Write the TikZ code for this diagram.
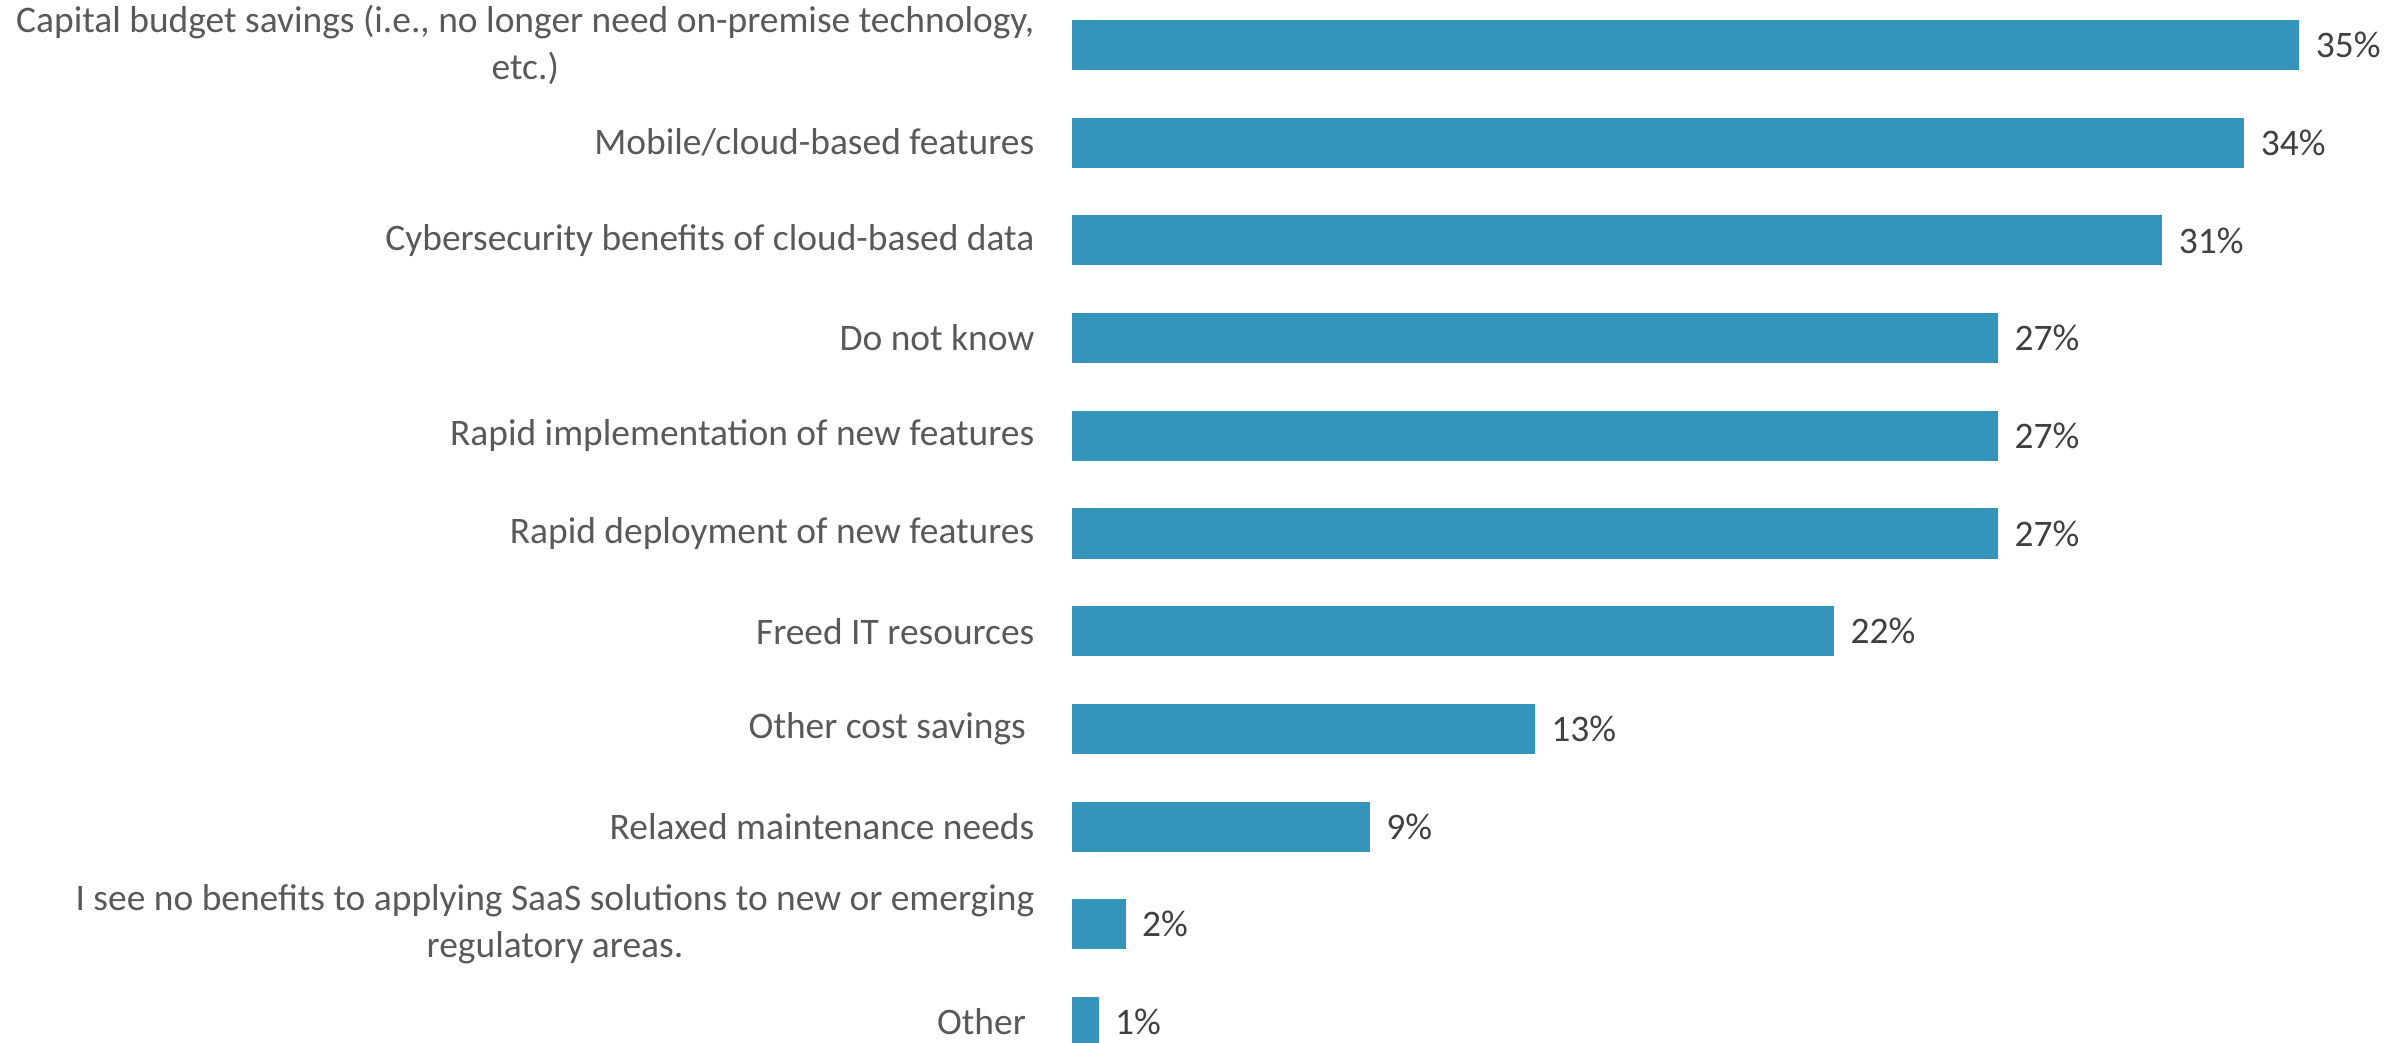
\documentclass[tikz,border=0pt]{standalone}
\usepackage{fontspec}
\setmainfont{Carlito}
\definecolor{barblue}{HTML}{3494BA}
\definecolor{labgray}{HTML}{595959}
\definecolor{pctgray}{HTML}{404040}
\begin{document}
\begin{tikzpicture}[x=0.01cm,y=-0.01cm,
  barbox/.style={fill=barblue, draw=none, inner sep=0pt, minimum height=0.5cm, anchor=west},
  catlabel/.style={text=labgray, font=\fontsize{10.65}{13.3}\selectfont, anchor=east, align=center, inner sep=0pt},
  pctlabel/.style={text=pctgray, font=\fontsize{10.65}{13.3}\selectfont, anchor=west, inner sep=0pt}]
\useasboundingbox (0,0) rectangle (2407,1043);
\foreach \w/\p/\t [count=\n from 0] in {
  12.27/35\%/{Capital budget savings (i.e., no longer need on-premise technology,\\ etc.)},
  11.72/34\%/{Mobile/cloud-based features},
  10.90/31\%/{Cybersecurity benefits of cloud-based data},
  9.26/27\%/{Do not know},
  9.26/27\%/{Rapid implementation of new features},
  9.26/27\%/{Rapid deployment of new features},
  7.62/22\%/{Freed IT resources},
  4.63/13\%/{Other cost savings~},
  2.98/9\%/{Relaxed maintenance needs},
  0.54/2\%/{I see no benefits to applying SaaS solutions to new or emerging\\ regulatory areas.},
  0.27/1\%/{Other~}} {
  \pgfmathsetmacro\yc{45+97.7*\n}
  \node[barbox, minimum width=\w cm] (bar\n) at (1071,\yc) {};
  \node[pctlabel] (pct\n) at ([xshift=0.15cm]bar\n.east) {\p};
  \node[catlabel] (cat\n) at (1035,\yc) {\t};
}
\end{tikzpicture}
\end{document}
